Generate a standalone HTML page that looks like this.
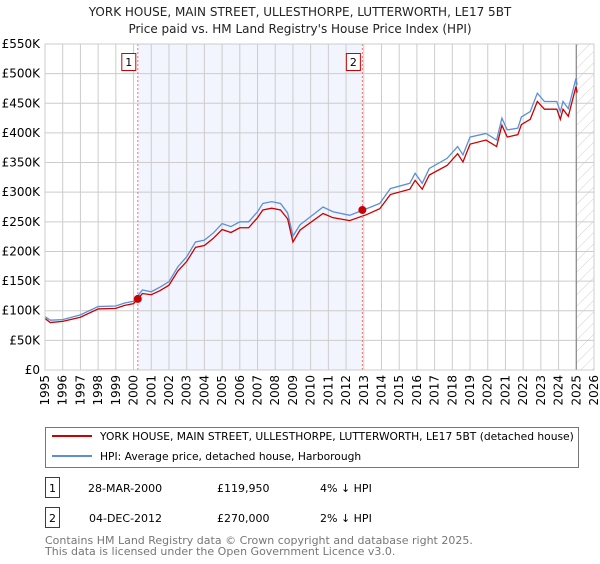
<!DOCTYPE html>
<html><head><meta charset="utf-8"><style>
body{margin:0;background:#fff;font-family:"DejaVu Sans","Liberation Sans",sans-serif;}
svg text{font-family:"DejaVu Sans","Liberation Sans",sans-serif;}
</style></head><body>
<svg width="600" height="560" xmlns="http://www.w3.org/2000/svg">
<defs><pattern id="hatch" width="8" height="8" patternUnits="userSpaceOnUse" patternTransform="rotate(45)"><line x1="0" y1="0" x2="0" y2="8" stroke="#d0d0d0" stroke-width="1"/></pattern></defs>
<text x="300" y="16" text-anchor="middle" font-size="12" fill="#222">YORK HOUSE, MAIN STREET, ULLESTHORPE, LUTTERWORTH, LE17 5BT</text>
<text x="300" y="33" text-anchor="middle" font-size="12" fill="#222">Price paid vs. HM Land Registry's House Price Index (HPI)</text>
<g id="plot"></g>
<g>
<rect x="45.5" y="427.5" width="533" height="40" fill="#fff" stroke="#777"/>
<line x1="52" y1="436" x2="92" y2="436" stroke="#cc0000" stroke-width="2"/>
<text x="100" y="440" font-size="10.7" fill="#000">YORK HOUSE, MAIN STREET, ULLESTHORPE, LUTTERWORTH, LE17 5BT (detached house)</text>
<line x1="52" y1="456" x2="92" y2="456" stroke="#5b8fd6" stroke-width="2"/>
<text x="100" y="460" font-size="10.7" fill="#000">HPI: Average price, detached house, Harborough</text>
</g>
<g font-size="11" fill="#000">
<rect x="45.5" y="477.5" width="14" height="20" fill="#fff" stroke="#cc0000"/>
<text x="52.5" y="492" text-anchor="middle">1</text>
<text x="88" y="492">28-MAR-2000</text><text x="217" y="492">£119,950</text><text x="320" y="492">4% ↓ HPI</text>
<rect x="45.5" y="507.5" width="14" height="20" fill="#fff" stroke="#cc0000"/>
<text x="52.5" y="522" text-anchor="middle">2</text>
<text x="89" y="522">04-DEC-2012</text><text x="217" y="522">£270,000</text><text x="320" y="522">2% ↓ HPI</text>
</g>
<text x="45" y="544" font-size="11" fill="#777">Contains HM Land Registry data © Crown copyright and database right 2025.</text>
<text x="45" y="555" font-size="11" fill="#777">This data is licensed under the Open Government Licence v3.0.</text>
</svg>
<script>
const hpiYears=[1995.0,1995.3,1996.0,1997.0,1998.0,1999.0,1999.5,2000.0,2000.5,2001.0,2001.5,2002.0,2002.5,2003.0,2003.5,2004.0,2004.5,2005.0,2005.5,2006.0,2006.5,2007.0,2007.3,2007.8,2008.3,2008.7,2009.0,2009.4,2010.7,2011.26,2012.2,2013.15,2013.9,2014.5,2015.6,2015.9,2016.3,2016.7,2017.7,2018.3,2018.6,2019.0,2019.9,2020.5,2020.8,2021.1,2021.7,2021.9,2022.4,2022.8,2023.2,2023.9,2024.1,2024.25,2024.55,2024.98,2025.05];
const hpiValues=[90,84,85,93,107,108,113,116,135,132,140,149,174,191,216,219,231,247,242,250,250,267,281,284,281,265,226,245,275,267,261,272,281,306,315,332,315,340,357,377,363,393,399,388,425,405,408,427,436,467,453,453,436,453,441,492,481];
const propValues=[87,80,82,89,103,104,109,112,129,127,134,143,167,183,207,210,222,237,232,240,240,257,270,273,270,255,216,236,264,257,252,262,272,296,305,320,305,329,345,365,351,381,388,377,413,393,397,414,423,453,440,440,423,440,428,478,468];
const sales=[{year:2000.24,value:119.95,label:"1"},{year:2012.92,value:270,label:"2"}];
const yTicks=[0,50,100,150,200,250,300,350,400,450,500,550];
const xYears=[1995,1996,1997,1998,1999,2000,2001,2002,2003,2004,2005,2006,2007,2008,2009,2010,2011,2012,2013,2014,2015,2016,2017,2018,2019,2020,2021,2022,2023,2024,2025,2026];

const L=45,R=594,T=44,B=370;
const xs=y=>L+(y-1995)/(2026-1995)*(R-L);
const ys=v=>B-v/550*(B-T);
const NS="http://www.w3.org/2000/svg";
const g=document.getElementById('plot');
function mk(tag,attrs,parent){const e=document.createElementNS(NS,tag);for(const k in attrs)e.setAttribute(k,attrs[k]);(parent||g).appendChild(e);return e;}
let e;
e=mk('rect',{x:xs(sales[0].year),y:T,width:xs(sales[1].year)-xs(sales[0].year),height:B-T,fill:'#f2f5fd'});


e=mk('rect',{x:xs(2025),y:T,width:xs(2026)-xs(2025),height:B-T,fill:'url(#hatch)'});


yTicks.forEach(v=>{
 e=mk('line',{x1:L,x2:R,y1:ys(v),y2:ys(v),stroke:'#ccc','stroke-width':1});
 
 
 e=mk('text',{x:L-5,y:ys(v)+4,'text-anchor':'end','font-size':12,fill:'#000'});
 e.textContent=v===0?'£0':'£'+v+'K';
 
 
});
xYears.forEach(yr=>{
 e=mk('line',{x1:xs(yr),x2:xs(yr),y1:T,y2:B,stroke:'#ccc','stroke-width':1});
 
 
 e=mk('text',{x:0,y:0,'text-anchor':'end','font-size':12,fill:'#000',transform:`translate(${xs(yr)+4},${B+5}) rotate(-90)`});
 e.textContent=yr;
 
 
});
e=mk('line',{x1:xs(2025),x2:xs(2025),y1:T,y2:B,stroke:'#888','stroke-width':1.2});


e=mk('polyline',{points:hpiYears.map((y,i)=>xs(y)+','+ys(hpiValues[i])).join(' '),fill:'none',stroke:'#5b8fd6','stroke-width':1.3});


e=mk('polyline',{points:hpiYears.map((y,i)=>xs(y)+','+ys(propValues[i])).join(' '),fill:'none',stroke:'#cc0000','stroke-width':1.3});


sales.forEach(s=>{
 e=mk('line',{x1:xs(s.year),x2:xs(s.year),y1:T,y2:B,stroke:'#f07070','stroke-width':1,'stroke-dasharray':'2,2'});
 
 
 e=mk('circle',{cx:xs(s.year),cy:ys(s.value),r:4,fill:'#cc0000'});
 
 
 e=mk('rect',{x:xs(s.year)-16,y:53.5,width:14,height:17,fill:'#fff',stroke:'#cc0000'});
 
 
 e=mk('text',{x:xs(s.year)-9,y:66,'text-anchor':'middle','font-size':11,fill:'#000'});
 e.textContent=s.label;
 
 
});
e=mk('rect',{x:L,y:T,width:R-L,height:B-T,fill:'none',stroke:'#ccc'});


</script>
</body></html>
